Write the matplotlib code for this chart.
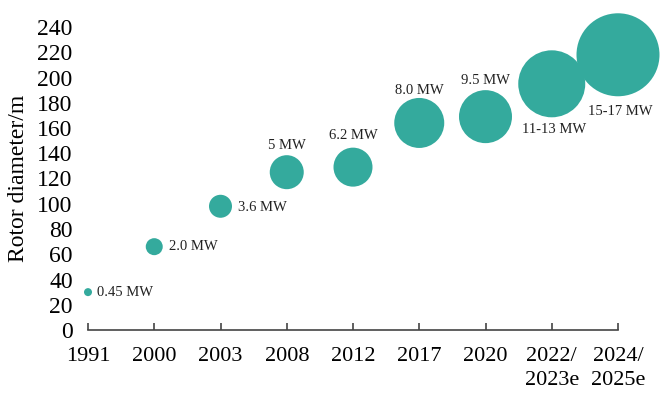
import matplotlib
matplotlib.use("Agg")
import matplotlib.pyplot as plt

years = ["1991", "2000", "2003", "2008", "2012", "2017", "2020", "2022/\n2023e", "2024/\n2025e"]
diameter = [30, 66, 98, 125, 129, 164, 169, 195, 218]
power_labels = ["0.45 MW", "2.0 MW", "3.6 MW", "5 MW", "6.2 MW", "8.0 MW", "9.5 MW", "11-13 MW", "15-17 MW"]
bubble_px = [8, 17, 23, 34, 39, 50, 53, 67, 83]

# label offsets in pixels from bubble centre (dx, dy up), alignment
label_offsets = [(9, 0, "left"), (15, 0, "left"), (17, -1, "left"),
                 (0, 27, "center"), (0, 32, "center"), (0, 32, "center"),
                 (0, 36, "center"), (2, -46, "center"), (2, -57, "center")]

plt.rcParams['font.family'] = ['Liberation Serif', 'DejaVu Serif']
fig = plt.figure(figsize=(6.67, 3.99), dpi=100)
W, H = 667, 399
ax = fig.add_axes([88 / W, 1 - 330 / H, (618 - 88) / W, (330 - 27) / H])

x = list(range(len(years)))
sizes = [(d * 0.72) ** 2 for d in bubble_px]
ax.scatter(x, diameter, s=sizes, color="#34aa9d", edgecolors="none", clip_on=False, zorder=3)

for xi, yi, lab, (dx, dy, ha) in zip(x, diameter, power_labels, label_offsets):
    ax.annotate(lab, (xi, yi), xytext=(dx * 0.72, dy * 0.72), textcoords="offset points",
                ha=ha, va="center", fontsize=10.5, color="#222222")

ax.set_xlim(0, len(years) - 1)
ax.set_ylim(0, 240)
ax.set_xticks(x)
ax.set_xticklabels(years, fontsize=16, linespacing=1.35)
ax.set_yticks(range(0, 241, 20))
ax.tick_params(axis="y", length=0, pad=11, labelsize=17)
ax.tick_params(axis="x", direction="in", length=5, width=1.2, color="#444444", pad=12)
for s in ["top", "right", "left"]:
    ax.spines[s].set_visible(False)
ax.spines["bottom"].set_color("#444444")
ax.spines["bottom"].set_linewidth(1.2)
ax.set_ylabel("Rotor diameter/m", fontsize=17, labelpad=6)

fig.savefig("out.png", dpi=100)
